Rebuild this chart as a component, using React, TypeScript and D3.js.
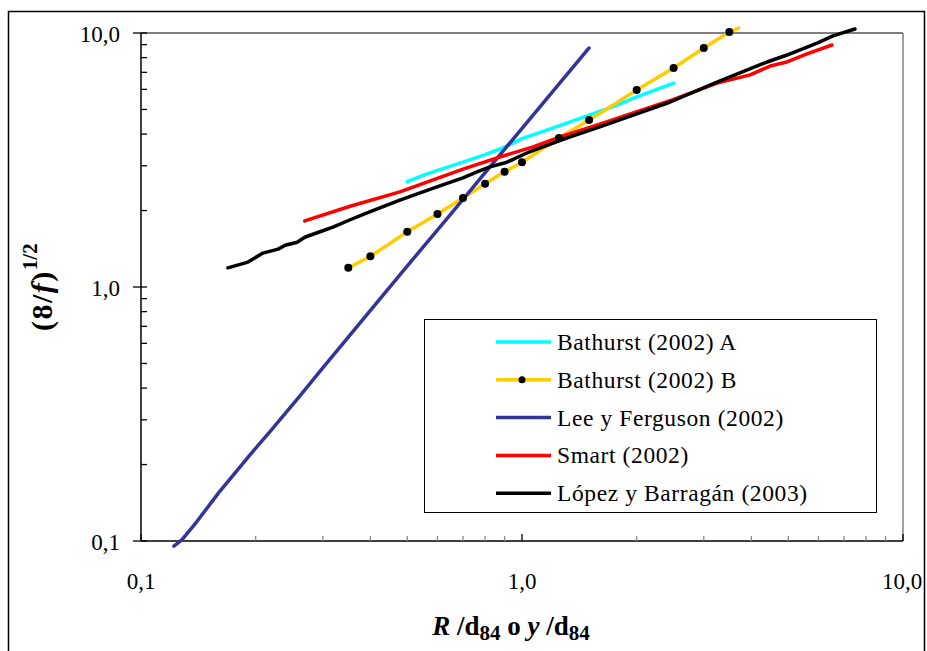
import React from "react";
import * as d3 from "d3";

const bathAX = [0.5, 0.55, 0.6, 0.7, 0.8, 0.9, 1.0, 1.25, 1.5, 1.75, 2.0, 2.25, 2.5];
const bathAY = [2.6, 2.75, 2.88, 3.1, 3.32, 3.55, 3.84, 4.31, 4.75, 5.15, 5.6, 5.98, 6.35];

const bathBX = [0.35, 0.4, 0.5, 0.6, 0.7, 0.8, 0.9, 1.0, 1.25, 1.5, 2.0, 2.5, 3.0, 3.5];
const bathBY = [1.19, 1.32, 1.65, 1.94, 2.24, 2.55, 2.84, 3.1, 3.86, 4.54, 5.97, 7.28, 8.73, 10.09];
const bathBEndX = 3.7;
const bathBEndY = 10.45;

const leeX = [0.122, 0.128, 0.14, 0.16, 0.193, 0.22, 0.261, 0.3, 0.354, 0.478, 0.647, 0.875, 1.184, 1.5];
const leeY = [0.0955, 0.101, 0.119, 0.155, 0.218, 0.274, 0.372, 0.48, 0.648, 1.117, 1.92, 3.31, 5.71, 8.73];

const smartX = [0.269, 0.354, 0.478, 0.7, 0.875, 1.069, 1.258, 1.6, 2.48, 3.25, 3.97, 4.48, 4.96, 5.6, 6.51];
const smartY = [1.82, 2.08, 2.37, 2.91, 3.25, 3.56, 3.9, 4.38, 5.45, 6.35, 6.84, 7.41, 7.69, 8.27, 8.97];

const lopezX = [0.169, 0.19, 0.209, 0.229, 0.239, 0.257, 0.269, 0.295, 0.319, 0.354, 0.392, 0.478, 0.598, 0.7, 0.762, 0.824, 0.913, 1.03, 1.135, 1.31, 1.6, 2.45, 3.25, 4.4, 4.96, 5.95, 6.55, 7.48];
const lopezY = [1.19, 1.25, 1.36, 1.41, 1.46, 1.5, 1.57, 1.65, 1.72, 1.84, 1.96, 2.2, 2.48, 2.69, 2.84, 2.97, 3.1, 3.37, 3.56, 3.86, 4.27, 5.35, 6.41, 7.69, 8.19, 9.13, 9.74, 10.37];

const majorTicks = [0.1, 1, 10];
const majorLabels = ["0,1", "1,0", "10,0"];
const legendNames = ["Bathurst (2002) A", "Bathurst (2002) B", "Lee y Ferguson (2002)", "Smart (2002)", "López y Barragán (2003)"];
const colors = ["#00FFFF", "#FFCC00", "#333399", "#FF0000", "#000000"];

const L = 141, R = 903, T = 33, B = 541;
const FONT = "Liberation Serif";

export default function App() {
  const x = d3.scaleLog().domain([0.1, 10]).range([L, R]);
  const y = d3.scaleLog().domain([0.1, 10]).range([B, T]);
  const line = d3.line<[number, number]>().x(d => x(d[0])).y(d => y(d[1]));
  const zip = (a: number[], b: number[]) => a.map((v, i) => [v, b[i]] as [number, number]);

  const minor: number[] = [];
  for (const dec of [0.1, 1]) for (let k = 2; k <= 9; k++) minor.push(dec * k);

  const series = [
    zip(bathAX, bathAY),
    [...zip(bathBX, bathBY), [bathBEndX, bathBEndY] as [number, number]],
    zip(leeX, leeY),
    zip(smartX, smartY),
    zip(lopezX, lopezY),
  ];

  return (
    <svg width={927} height={651} fontFamily={FONT} style={{ position: "absolute", left: 0, top: 0 }}>
      <rect x={0} y={0} width={927} height={651} fill="#fff" />
      <rect x={8.5} y={11.5} width={916} height={660} fill="none" stroke="#000" strokeWidth={1.5} />
      <line x1={L} x2={R} y1={T} y2={T} stroke="#000" />
      <line x1={R} x2={R} y1={T} y2={B} stroke="#808080" strokeWidth={1.5} />
      <line x1={L} x2={R} y1={B} y2={B} stroke="#000" strokeWidth={1.5} />
      <line x1={L} x2={L} y1={T} y2={B} stroke="#000" strokeWidth={1.5} />
      {majorTicks.map((t, i) => (
        <g key={"ym" + i}>
          <line x1={L - 8} x2={L + 6} y1={y(t)} y2={y(t)} stroke="#000" strokeWidth={1.3} />
          <text fontFamily={FONT} x={120} y={y(t) + 9} fontSize={23} textAnchor="end">{majorLabels[i]}</text>
        </g>
      ))}
      {minor.map((t, i) => (
        <line key={"yn" + i} x1={L} x2={L + 6} y1={y(t)} y2={y(t)} stroke="#000" strokeWidth={1.3} />
      ))}
      {majorTicks.map((t, i) => (
        <g key={"xm" + i}>
          <line x1={x(t)} x2={x(t)} y1={B} y2={B - 7} stroke="#000" strokeWidth={1.3} />
          <text fontFamily={FONT} x={Math.min(x(t), 902)} y={589} fontSize={23} textAnchor="middle">{majorLabels[i]}</text>
        </g>
      ))}
      {minor.map((t, i) => (
        <line key={"xn" + i} x1={x(t)} x2={x(t)} y1={B} y2={B - 5} stroke="#888" strokeWidth={1.3} />
      ))}
      {series.map((s, i) => (
        <path key={"s" + i} d={line(s) || ""} fill="none" stroke={colors[i]} strokeWidth={3.5} strokeLinejoin="round" strokeLinecap="round" />
      ))}
      {bathBX.map((v, i) => (
        <circle key={"d" + i} cx={x(v)} cy={y(bathBY[i])} r={4} fill="#000" />
      ))}
      <rect x={424.5} y={319.5} width={452} height={193} fill="#fff" stroke="#000" strokeWidth={1} />
      {legendNames.map((n, i) => {
        const ly = 342 + i * 37.8;
        return (
          <g key={"l" + i}>
            <line x1={496} x2={551} y1={ly} y2={ly} stroke={colors[i]} strokeWidth={3.5} />
            {i === 1 && <circle cx={522} cy={ly} r={3.5} fill="#000" />}
            <text fontFamily={FONT} x={557} y={ly + 8} fontSize={23.5} letterSpacing={0.6}>{n}</text>
          </g>
        );
      })}
      <text fontFamily={FONT} x={511} y={635} fontSize={27} fontWeight="bold" textAnchor="middle">
        <tspan fontStyle="italic">R</tspan>
        <tspan> /d</tspan>
        <tspan fontSize={21} dy={5}>84</tspan>
        <tspan dy={-5}> o </tspan>
        <tspan fontStyle="italic">y</tspan>
        <tspan> /d</tspan>
        <tspan fontSize={21} dy={5}>84</tspan>
      </text>
      <text fontFamily={FONT} transform="translate(52,331) rotate(-90)" fontSize={30} fontWeight="bold" letterSpacing={1.5}>
        <tspan>(8/</tspan>
        <tspan fontStyle="italic">f</tspan>
        <tspan>)</tspan>
        <tspan fontSize={21} dy={-15} letterSpacing={0}>1/2</tspan>
      </text>
    </svg>
  );
}
